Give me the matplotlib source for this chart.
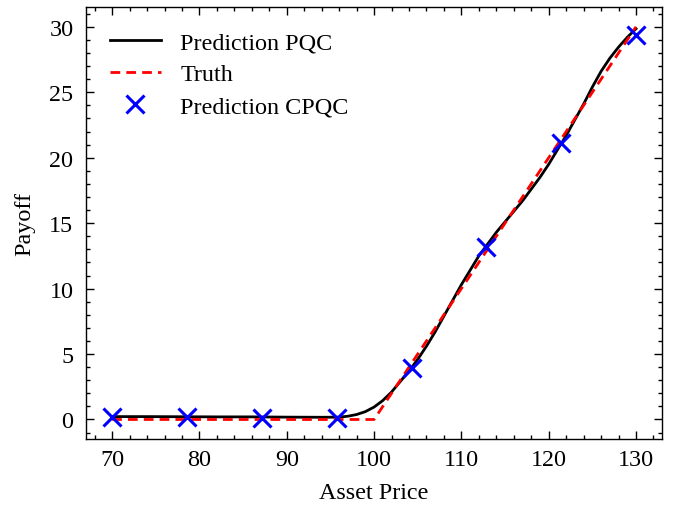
import numpy as np
import matplotlib
matplotlib.use('Agg')
import matplotlib.pyplot as plt
from matplotlib.ticker import MultipleLocator

# values
price_pqc = [70, 74, 78, 82, 86, 90, 94, 96, 97, 98, 99,
             100, 101, 102, 103, 104, 105, 106, 107, 108, 109, 110, 111,
             112, 113, 114, 115, 116, 117, 118, 119, 120, 121, 122, 123,
             124, 125, 126, 127, 128, 129, 130]
payoff_pqc = [0.22, 0.22, 0.21, 0.20, 0.20, 0.18, 0.17, 0.18, 0.25, 0.38, 0.6,
              0.95, 1.45, 2.1, 2.9, 3.7, 4.6, 5.6, 6.7, 7.9, 9.1, 10.3, 11.4,
              12.5, 13.4, 14.3, 15.1, 15.9, 16.7, 17.6, 18.5, 19.5, 20.6, 21.7, 22.9,
              24.1, 25.4, 26.6, 27.6, 28.45, 29.2, 29.85]

price_truth = [70, 100, 130]
payoff_truth = [0, 0, 30]

price_cpqc = [70.0, 78.57, 87.14, 95.71, 104.29, 112.86, 121.43, 130.0]
payoff_cpqc = [0.2, 0.2, 0.15, 0.15, 3.9, 13.2, 21.1, 29.4]

plt.rcParams['font.family'] = ['Liberation Serif', 'DejaVu Serif']
plt.rcParams['mathtext.fontset'] = 'dejavuserif'
plt.rcParams['font.size'] = 17.4
plt.rcParams['axes.linewidth'] = 1.0
plt.rcParams['xtick.direction'] = 'in'
plt.rcParams['ytick.direction'] = 'in'
plt.rcParams['xtick.top'] = True
plt.rcParams['ytick.right'] = True
plt.rcParams['xtick.major.size'] = 5.8
plt.rcParams['ytick.major.size'] = 5.8
plt.rcParams['xtick.minor.size'] = 2.9
plt.rcParams['ytick.minor.size'] = 2.9
plt.rcParams['xtick.major.width'] = 1.0
plt.rcParams['ytick.major.width'] = 1.0
plt.rcParams['xtick.minor.width'] = 1.0
plt.rcParams['ytick.minor.width'] = 1.0
plt.rcParams['xtick.minor.visible'] = True
plt.rcParams['ytick.minor.visible'] = True
plt.rcParams['xtick.major.pad'] = 7
plt.rcParams['ytick.major.pad'] = 9

fig, ax = plt.subplots(figsize=(6.82, 5.1), dpi=100)
fig.subplots_adjust(left=0.126, right=0.971, top=0.984, bottom=0.137)

ax.plot(price_pqc, payoff_pqc, color='black', linewidth=2.0, label='Prediction PQC')
ax.plot(price_truth, payoff_truth, color='red', linestyle='--', linewidth=2.0,
        dashes=(3.5, 2.2), label='Truth')
ax.plot(price_cpqc, payoff_cpqc, linestyle='none', marker='x', color='blue',
        markersize=13.5, markeredgewidth=2.2, label='Prediction CPQC')

ax.xaxis.set_major_locator(MultipleLocator(10))
ax.xaxis.set_minor_locator(MultipleLocator(2))
ax.yaxis.set_major_locator(MultipleLocator(5))
ax.yaxis.set_minor_locator(MultipleLocator(1))

ax.set_xlabel('Asset Price', labelpad=9)
ax.set_ylabel('Payoff', labelpad=10)
ax.legend(frameon=False, loc='upper left', handlelength=2.1,
          borderaxespad=0.6, labelspacing=0.42)

fig.savefig('out.png', dpi=100)
